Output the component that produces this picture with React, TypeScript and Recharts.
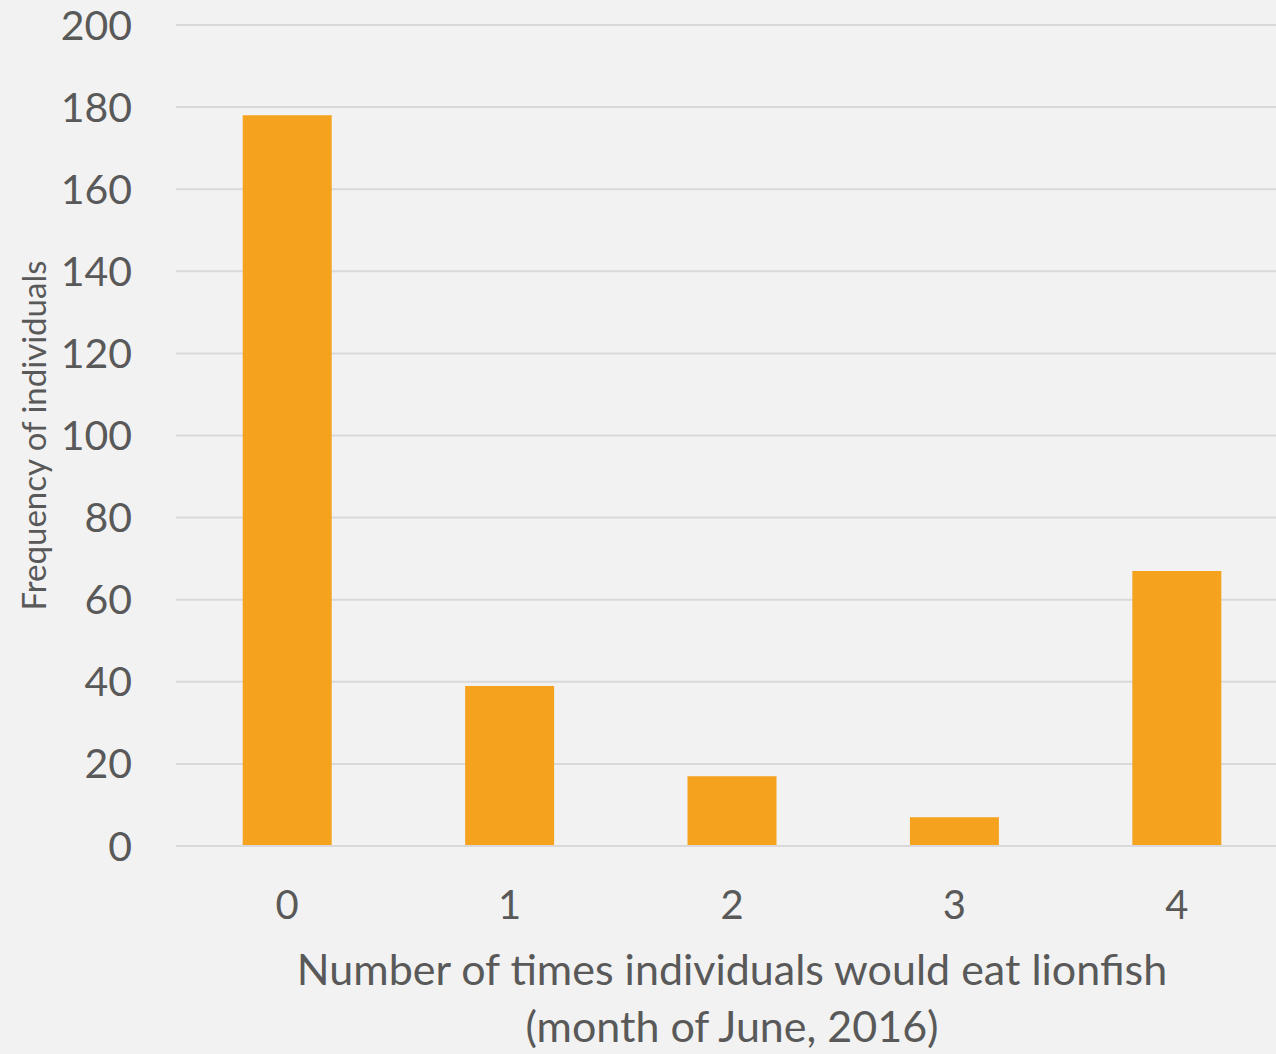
import { BarChart, Bar, XAxis, YAxis, CartesianGrid, Label } from "recharts";

const categories = ["0", "1", "2", "3", "4"];
const frequencies = [178, 39, 17, 7, 67];
const yTicks = [0, 20, 40, 60, 80, 100, 120, 140, 160, 180, 200];

const data = categories.map((c, i) => ({ times: c, freq: frequencies[i] }));

const FONT = "Lato, 'Open Sans', sans-serif";
const TEXT = "#595959";

function XTitle(props: any) {
  const vb = props.viewBox || {};
  const cx = vb.x + vb.width / 2;
  return (
    <text x={cx} y={vb.y + 139} textAnchor="middle" fill={TEXT} fontSize={43} fontFamily={FONT}>
      <tspan x={cx}>Number of times individuals would eat lionfish</tspan>
      <tspan x={cx} dy={57}>(month of June, 2016)</tspan>
    </text>
  );
}

export default function App() {
  return (
    <div
      style={{
        position: "absolute",
        left: 0,
        top: 0,
        width: 1276,
        height: 1054,
        overflow: "hidden",
        background: "#f2f2f2",
      }}
    >
      <BarChart
        width={1288}
        height={1054}
        data={data}
        margin={{ top: 25, right: 0, left: 0, bottom: 0 }}
        barCategoryGap="30%"
      >
        <CartesianGrid vertical={false} stroke="#d9d9d9" strokeWidth={2} />
        <XAxis
          dataKey="times"
          height={208}
          tickLine={false}
          axisLine={{ stroke: "#d9d9d9", strokeWidth: 2 }}
          tick={{ fill: TEXT, fontSize: 40, fontFamily: FONT }}
          tickMargin={39}
        >
          <Label content={<XTitle />} />
        </XAxis>
        <YAxis
          width={176}
          domain={[0, 200]}
          ticks={yTicks}
          interval={0}
          tickLine={false}
          axisLine={false}
          tick={{ fill: TEXT, fontSize: 41, fontFamily: FONT }}
          tickMargin={38}
        >
          <Label
            value="Frequency of individuals"
            angle={-90}
            position="insideLeft"
            offset={34}
            style={{ fill: TEXT, fontSize: 33, fontFamily: FONT, textAnchor: "middle" }}
          />
        </YAxis>
        <Bar dataKey="freq" fill="#F5A31F" isAnimationActive={false} />
      </BarChart>
    </div>
  );
}
